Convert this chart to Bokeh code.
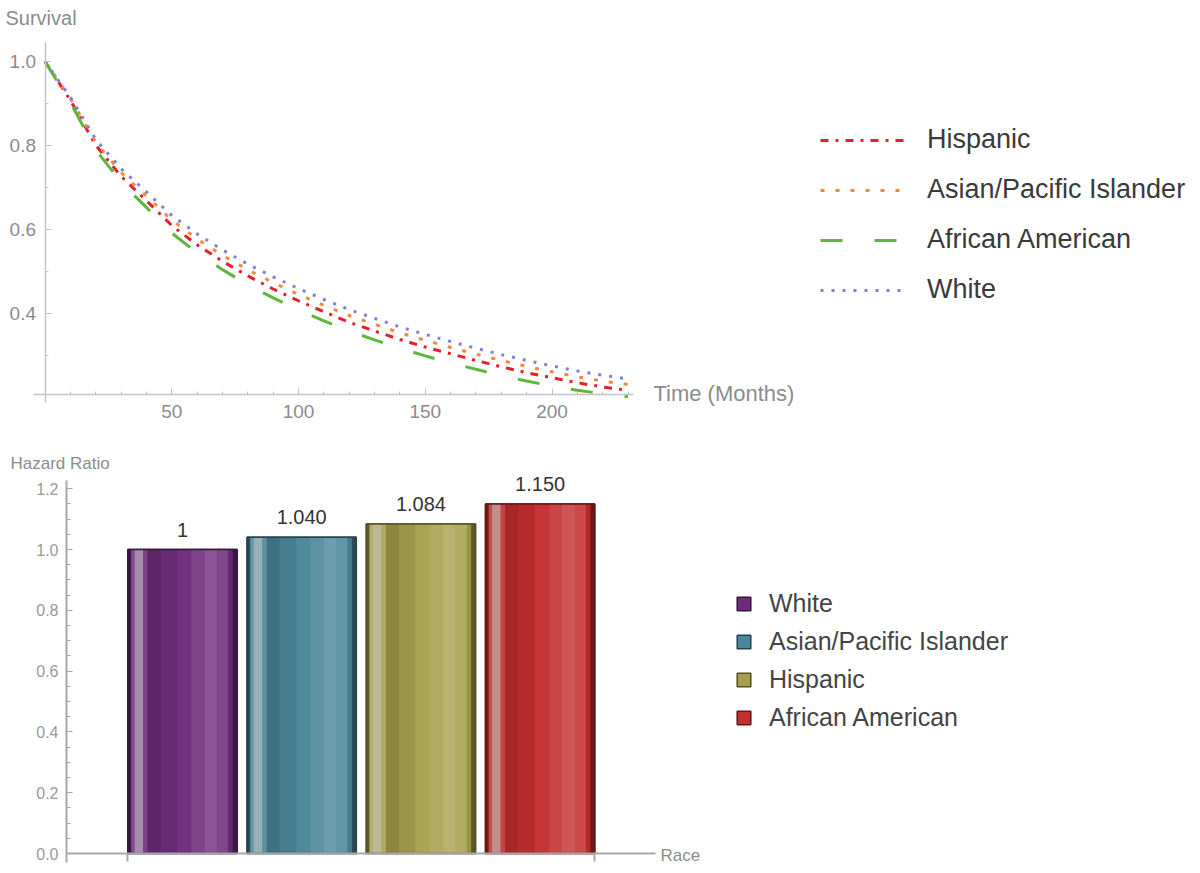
from bokeh.plotting import figure
from bokeh.models import (Range1d, FixedTicker, PrintfTickFormatter, Legend, LegendItem,
                          Label, ColumnDataSource)
from bokeh.layouts import column
from bokeh.embed import file_html
from bokeh.resources import INLINE
from bokeh.core.properties import value

# ---------------- data ----------------
months = [0, 10, 20, 30, 40, 50, 60, 70, 80, 90, 100, 110, 120, 130, 140, 150,
          160, 170, 180, 190, 200, 210, 220, 230]
surv_white = [1.000, 0.915, 0.815, 0.745, 0.690, 0.634, 0.590, 0.552, 0.518, 0.488, 0.460, 0.434,
              0.410, 0.389, 0.369, 0.351, 0.334, 0.318, 0.303, 0.289, 0.276, 0.264, 0.254, 0.245]
surv_asian = [1.000, 0.912, 0.808, 0.736, 0.680, 0.623, 0.578, 0.539, 0.505, 0.474, 0.446, 0.420,
              0.396, 0.375, 0.355, 0.337, 0.320, 0.304, 0.289, 0.275, 0.262, 0.250, 0.240, 0.232]
surv_hispanic = [1.000, 0.908, 0.801, 0.727, 0.669, 0.610, 0.564, 0.525, 0.490, 0.459, 0.431, 0.405,
                 0.380, 0.359, 0.339, 0.321, 0.305, 0.289, 0.274, 0.260, 0.248, 0.236, 0.226, 0.218]
surv_african = [1.000, 0.903, 0.790, 0.713, 0.653, 0.592, 0.545, 0.505, 0.469, 0.438, 0.409, 0.383,
                0.359, 0.338, 0.318, 0.300, 0.283, 0.268, 0.253, 0.240, 0.228, 0.218, 0.210, 0.203]

races = ["White", "Asian/Pacific Islander", "Hispanic", "African American"]
hazard_ratio = [1.0, 1.040, 1.084, 1.150]
hazard_labels = ["1", "1.040", "1.084", "1.150"]

x_ticks_top = [50, 100, 150, 200]
y_ticks_top = [0.4, 0.6, 0.8, 1.0]
y_ticks_bottom = [0.0, 0.2, 0.4, 0.6, 0.8, 1.0, 1.2]

# ---------------- styles ----------------
FONT = "Liberation Sans"
AXIS_COL = "#c4c4c4"
TICK_TXT = "#8c8c8c"
W = 1200
H_TOP = 438
H_BOT = 435

# ================= TOP: survival curves =================
ppm = 2.535          # px per month
ppu = 420.5          # px per survival unit
xs_top = -44.5 / ppm
ye_top = 1.0 + 61 / ppu
top = figure(width=W, height=H_TOP, output_backend="svg", toolbar_location=None,
             x_range=Range1d(xs_top, xs_top + W / ppm),
             y_range=Range1d(ye_top - H_TOP / ppu, ye_top),
             min_border=0, min_border_left=0, min_border_right=0,
             min_border_top=0, min_border_bottom=0)
top.outline_line_color = None
top.grid.visible = False
top.background_fill_color = "white"

x_origin_top = 0.207
for ax in (top.xaxis[0], top.yaxis[0]):
    ax.axis_line_color = AXIS_COL
    ax.axis_line_width = 1.5
    ax.major_tick_line_color = AXIS_COL
    ax.minor_tick_line_color = AXIS_COL
    ax.major_tick_out = 0
    ax.major_tick_in = 6
    ax.minor_tick_out = 0
    ax.minor_tick_in = 3
    ax.major_label_text_color = TICK_TXT
    ax.major_label_text_font = FONT
    ax.major_label_text_font_size = "19px"
top.xaxis[0].fixed_location = x_origin_top
top.yaxis[0].fixed_location = 0
top.xaxis[0].bounds = (-4.7, 232)
top.yaxis[0].bounds = (0.19, 1.045)
top.xaxis[0].ticker = FixedTicker(ticks=x_ticks_top,
                                  minor_ticks=[m for m in range(10, 231, 10)])
top.yaxis[0].ticker = FixedTicker(ticks=y_ticks_top,
                                  minor_ticks=[0.3, 0.5, 0.7, 0.9])
top.yaxis[0].formatter = PrintfTickFormatter(format="%.1f")
top.xaxis[0].major_label_standoff = 10
top.yaxis[0].major_label_standoff = 9

series = [
    ("Hispanic", surv_hispanic, "#e5202a", "8 7 3 7"),
    ("Asian/Pacific Islander", surv_asian, "#f28a3a", "4 11"),
    ("African American", surv_african, "#5db83a", "22 32"),
    ("White", surv_white, "#8080dc", "3 8"),
]
items = []
for name, ys, col, dash in series:
    r = top.line(months, ys, line_color=col, line_width=3, line_dash=dash)
    items.append(LegendItem(label=name, renderers=[r]))

leg = Legend(items=items, location=(820, 133), padding=0, margin=0,
             glyph_width=85, glyph_height=30, label_height=30, spacing=19,
             label_standoff=22, border_line_alpha=0, background_fill_alpha=0,
             label_text_font=FONT, label_text_font_size="27px", label_text_color="#3a3a3a")
top.add_layout(leg)

top.add_layout(Label(x=xs_top + 5 / ppm, y=ye_top - 17 / ppu, text="Survival", text_font=FONT,
                     text_font_size="20px", text_color="#8c8c8c", text_baseline="middle",
                     text_align="left"))
top.add_layout(Label(x=240, y=0.21, text="Time (Months)", text_font=FONT,
                     text_font_size="22px", text_color="#8c8c8c", text_baseline="middle",
                     text_align="left"))

# ================= BOTTOM: hazard ratio bars =================
ppc = 119.2          # px per category
ppv = 304.0          # px per hazard-ratio unit
x0 = 1 - (182 - 66) / ppc
xs_bot = x0 - 66 / ppc
ys_bot = -(H_BOT - 415) / ppv
ye_bot = ys_bot + H_BOT / ppv
bot = figure(width=W, height=H_BOT, output_backend="svg", toolbar_location=None,
             x_range=Range1d(xs_bot, xs_bot + W / ppc),
             y_range=Range1d(ys_bot, ye_bot),
             min_border=0, min_border_left=0, min_border_right=0,
             min_border_top=0, min_border_bottom=0)
bot.outline_line_color = None
bot.grid.visible = False

xa = bot.xaxis[0]
ya = bot.yaxis[0]
for ax in (xa, ya):
    ax.axis_line_color = "#a8a8a8"
    ax.axis_line_width = 2
    ax.major_tick_line_color = "#a8a8a8"
    ax.minor_tick_line_color = "#a8a8a8"
    ax.major_label_text_color = "#9a9a9a"
    ax.major_label_text_font = FONT
    ax.major_label_text_font_size = "16px"
bw = 0.916
xa.fixed_location = 0
ya.fixed_location = x0
xa.bounds = (x0, 4.97)
xa.ticker = FixedTicker(ticks=[1 - bw / 2, 4 + bw / 2], minor_ticks=[])
xa.major_label_text_font_size = "1px"
xa.major_label_text_alpha = 0
xa.major_label_standoff = 0
xa.major_tick_out = 8
xa.major_tick_in = 0
xa.major_tick_line_width = 2
ya.bounds = (-0.03, 1.227)
ya.ticker = FixedTicker(ticks=y_ticks_bottom,
                        minor_ticks=[round(i * 0.05, 2) for i in range(0, 25) if i % 4])
ya.formatter = PrintfTickFormatter(format="%.1f")
ya.major_tick_out = 0
ya.major_tick_in = 6
ya.minor_tick_out = 0
ya.minor_tick_in = 4
ya.major_label_standoff = 8


def hex2rgb(h):
    h = h.lstrip("#")
    return [int(h[i:i + 2], 16) for i in (0, 2, 4)]


def mix(h, target, t):
    a = hex2rgb(h)
    b = hex2rgb(target)
    return "#%02x%02x%02x" % tuple(int(round(a[i] + (b[i] - a[i]) * t)) for i in range(3))


bar_colors = ["#6e2c7c", "#4a8699", "#a7a04c", "#c42e2e"]
positions = [i + 1 for i in range(len(races))]

profile = [
    (0.00, 0.03, "#000000", 0.45),
    (0.03, 0.06, "#ffffff", 0.15),
    (0.06, 0.14, "#c8c8c8", 0.62),
    (0.14, 0.18, "#ffffff", 0.10),
    (0.18, 0.30, "#000000", 0.16),
    (0.30, 0.45, "#000000", 0.07),
    (0.45, 0.58, "#ffffff", 0.03),
    (0.58, 0.70, "#ffffff", 0.11),
    (0.70, 0.82, "#ffffff", 0.19),
    (0.82, 0.92, "#ffffff", 0.13),
    (0.92, 0.96, "#000000", 0.08),
    (0.96, 1.00, "#000000", 0.45),
]

base_src = ColumnDataSource(dict(x=positions, top=hazard_ratio, fill=bar_colors,
                                 line=[mix(c, "#000000", 0.5) for c in bar_colors]))
base = bot.vbar(x="x", top="top", width=bw, bottom=0, source=base_src,
                fill_color="fill", line_color="line", line_width=1.5)

L, R, T, C = [], [], [], []
for xi, hr, col in zip(positions, hazard_ratio, bar_colors):
    for s, e, tgt, t in profile:
        L.append(xi - bw / 2 + s * bw)
        R.append(xi - bw / 2 + e * bw)
        T.append(hr)
        C.append(mix(col, tgt, t))
bot.quad(left=L, right=R, top=T, bottom=0, fill_color=C, line_color=None)
bot.vbar(x="x", top="top", width=bw, bottom=0, source=base_src,
         fill_alpha=0, line_color="line", line_width=1.5)

bot.text(x=positions, y=hazard_ratio, text=hazard_labels, y_offset=-20,
         text_align="center", text_baseline="middle", text_font=value(FONT),
         text_font_size="20px", text_color="#333333")

leg2 = Legend(items=[LegendItem(label=r, renderers=[base], index=i) for i, r in enumerate(races)],
              location=(735, 141), padding=0, margin=0,
              glyph_width=17, glyph_height=17, label_height=24, spacing=9,
              label_standoff=17, border_line_alpha=0, background_fill_alpha=0,
              label_text_font=FONT, label_text_font_size="25px", label_text_color="#444444")
bot.add_layout(leg2)

bot.add_layout(Label(x=xs_bot + 10 / ppc, y=ye_bot - 25 / ppv, text="Hazard Ratio",
                     text_font=FONT, text_font_size="17px", text_color="#8c8c8c",
                     text_baseline="middle", text_align="left"))
bot.add_layout(Label(x=5.01, y=-0.007, text="Race", text_font=FONT,
                     text_font_size="17px", text_color="#8c8c8c", text_baseline="middle",
                     text_align="left"))

layout = column(top, bot, spacing=0)
open("out.html", "w").write(file_html(layout, INLINE))
